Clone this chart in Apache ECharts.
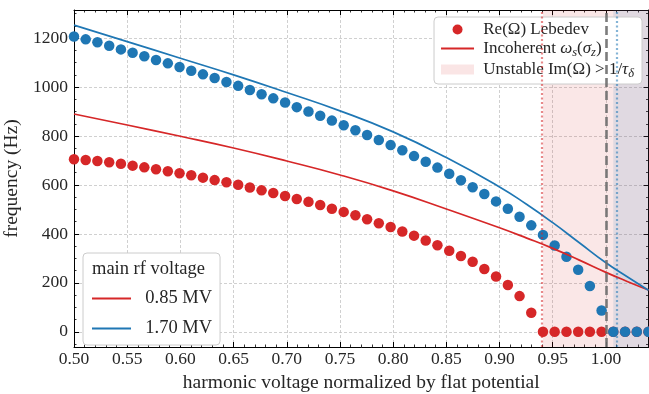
<!DOCTYPE html>
<html>
<head>
<meta charset="utf-8">
<script src="https://cdn.jsdelivr.net/npm/echarts@6/dist/echarts.min.js"></script>
<style>
  html, body { margin: 0; padding: 0; background: #fff; }
  #main { width: 649px; height: 394px; }
</style>
</head>
<body>
<div id="main"></div>
<script>
// harmonic voltage grid of the Lebedev solution
const xValues = [
  0.5000, 0.5110, 0.5220, 0.5331, 0.5441, 0.5551, 0.5661, 0.5771, 0.5882, 0.5992,
  0.6102, 0.6212, 0.6322, 0.6433, 0.6543, 0.6653, 0.6763, 0.6873, 0.6984, 0.7094,
  0.7204, 0.7314, 0.7424, 0.7535, 0.7645, 0.7755, 0.7865, 0.7976, 0.8086, 0.8196,
  0.8306, 0.8416, 0.8527, 0.8637, 0.8747, 0.8857, 0.8967, 0.9078, 0.9188, 0.9298,
  0.9408, 0.9518, 0.9629, 0.9739, 0.9849, 0.9959, 1.0069, 1.0180, 1.0290, 1.0400
];
// Re(Omega) Lebedev, 0.85 MV
const lebedev085 = [
  705, 702, 698, 693, 687, 679, 672, 664, 656, 648,
  640, 630, 620, 611, 601, 590, 578, 567, 555, 543,
  531, 518, 503, 490, 476, 460, 444, 428, 410, 393,
  373, 354, 331, 310, 286, 257, 226, 191, 146, 78,
  0, 0, 0, 0, 0, 0, 0, 0, 0, 0
];
// Re(Omega) Lebedev, 1.70 MV
const lebedev170 = [
  1207, 1195, 1183, 1169, 1154, 1140, 1126, 1111, 1097, 1082,
  1067, 1052, 1037, 1021, 1005, 988, 971, 954, 937, 918,
  900, 883, 863, 844, 824, 804, 784, 763, 742, 718,
  695, 671, 646, 619, 591, 563, 533, 503, 470, 435,
  396, 353, 307, 254, 187, 87, 0, 0, 0, 0
];
// incoherent synchrotron frequency
const lineX = [0.50, 0.55, 0.60, 0.65, 0.70, 0.75, 0.80, 0.85, 0.90, 0.925, 0.95, 0.975, 1.00, 1.02, 1.04];
const incoherent085 = [890, 845, 799, 751, 698, 641, 576, 502, 425, 384, 341, 293, 243, 206, 171];
const incoherent170 = [1253, 1186, 1118, 1050, 978, 903, 817, 712, 592, 522, 446, 364, 282, 225, 170];
// unstable thresholds
const unstable085 = 0.9408;
const unstable170 = 1.0069;
const flatPotential = 1.0;

const RED = '#d62728';
const BLUE = '#1f77b4';
const FONT = 'Liberation Serif';
const TXT = '#262626';

const N_LEB = 'Re(Ω) Lebedev';
const N_INC = 'Incoherent ωs(σz)';
const N_UNS = 'Unstable Im(Ω) > 1/τδ';

const pairs = (xs, ys) => xs.map((x, i) => [x, ys[i]]);

const LFS = 17;
const richText = {
  sp: { fontFamily: FONT, fontSize: LFS, lineHeight: 21 },
  n: { fontFamily: FONT, fontSize: LFS, color: TXT, lineHeight: 21 },
  i: { fontFamily: FONT, fontSize: LFS, color: TXT, lineHeight: 21, fontStyle: 'italic' },
  s: { fontFamily: FONT, fontSize: 12.5, color: TXT, lineHeight: 21, fontStyle: 'italic', verticalAlign: 'bottom' }
};
const richText2 = {
  sp: { fontFamily: FONT, fontSize: 18.5 },
  n: { fontFamily: FONT, fontSize: 18.5, color: TXT }
};

var myChart = echarts.init(document.getElementById('main'));

const axisCommon = {
  axisLine: { onZero: false, lineStyle: { color: '#000', width: 1 } },
  axisTick: { inside: true, length: 5, lineStyle: { color: '#000', width: 1 } }
};
const minorX = { show: true, splitNumber: 5, length: 2.5, lineStyle: { color: '#000', width: 0.8 } };
const minorY = { show: true, splitNumber: 4, length: 2.5, lineStyle: { color: '#000', width: 0.8 } };
const gridLine = { show: true, lineStyle: { color: '#c4c4c4', type: [3, 2], width: 0.8 } };

myChart.setOption({
  animation: false,
  grid: { left: 74, right: 0.5, top: 10, bottom: 47, containLabel: false, outerBoundsMode: 'none' },
  title: {
    text: 'main rf voltage',
    left: 92, top: 260, padding: 0,
    textStyle: { fontFamily: FONT, fontSize: 18.5, fontWeight: 'normal', color: TXT }
  },
  legend: [
    {
      orient: 'vertical',
      right: 7, top: 17,
      padding: [4, 8, 4, 6],
      itemWidth: 33, itemHeight: 10, itemGap: 2,
      backgroundColor: '#fff',
      borderColor: '#cccccc', borderWidth: 1, borderRadius: 4,
      data: [
        N_LEB,
        { name: N_INC, itemStyle: { opacity: 0 } },
        { name: N_UNS, icon: 'rect' }
      ],
      formatter: function (name) {
        if (name === N_INC) return '{sp| }{n|Incoherent }{i|ω}{s|s}{n|(}{i|σ}{s|z}{n|)}';
        if (name === N_UNS) return '{sp| }{n|Unstable Im(Ω) > 1/}{i|τ}{s|δ}';
        return '{sp| }{n|' + name + '}';
      },
      textStyle: { rich: richText }
    },
    {
      orient: 'vertical',
      left: 83, top: 253,
      padding: [36, 8, 7, 8],
      itemWidth: 39, itemHeight: 14, itemGap: 11,
      backgroundColor: '#fff',
      borderColor: '#cccccc', borderWidth: 1, borderRadius: 4,
      data: [
        { name: '0.85 MV', itemStyle: { opacity: 0 } },
        { name: '1.70 MV', itemStyle: { opacity: 0 } }
      ],
      formatter: name => '{sp|  }{n|' + name + '}',
      textStyle: { rich: richText2 }
    }
  ],
  xAxis: [
    Object.assign({
      type: 'value', min: 0.5, max: 1.04, interval: 0.05,
      name: 'harmonic voltage normalized by flat potential',
      nameLocation: 'middle', nameGap: 25,
      nameTextStyle: { fontFamily: FONT, fontSize: 19.5, color: TXT },
      axisLabel: {
        margin: 3, fontFamily: FONT, fontSize: 17.5, color: TXT, showMaxLabel: false,
        formatter: v => v.toFixed(2)
      },
      splitLine: gridLine,
      minorTick: minorX
    }, axisCommon),
    Object.assign({
      type: 'value', min: 0.5, max: 1.04, interval: 0.05, position: 'top',
      axisLabel: { show: false }, splitLine: { show: false },
      minorTick: minorX
    }, axisCommon)
  ],
  yAxis: [
    Object.assign({
      type: 'value', min: -62, max: 1315, splitNumber: 7,
      name: 'frequency (Hz)',
      nameLocation: 'middle', nameGap: 45,
      nameTextStyle: { fontFamily: FONT, fontSize: 19.5, color: TXT },
      axisLabel: {
        margin: 6, fontFamily: FONT, fontSize: 17.5, color: TXT,
        showMinLabel: false, showMaxLabel: false,
        formatter: v => String(v)
      },
      splitLine: gridLine,
      minorTick: minorY
    }, axisCommon),
    Object.assign({
      type: 'value', min: -62, max: 1315, splitNumber: 7, position: 'right',
      axisLabel: { show: false }, splitLine: { show: false },
      minorTick: minorY
    }, axisCommon)
  ],
  series: [
    {
      name: N_UNS,
      type: 'line',
      data: [],
      symbol: 'none',
      itemStyle: { color: 'rgba(214,39,40,0.12)' },
      lineStyle: { width: 0 },
      silent: true,
      markArea: {
        silent: true,
        data: [
          [{ xAxis: unstable085, itemStyle: { color: 'rgba(214,39,40,0.11)' } }, { xAxis: 1.04 }],
          [{ xAxis: unstable170, itemStyle: { color: 'rgba(31,119,180,0.12)' } }, { xAxis: 1.04 }]
        ]
      },
      markLine: {
        silent: true,
        symbol: ['none', 'none'],
        label: { show: false },
        data: [
          { xAxis: unstable085, lineStyle: { color: 'rgba(214,39,40,0.55)', type: [2, 2.5], width: 2.2 } },
          { xAxis: unstable170, lineStyle: { color: 'rgba(31,119,180,0.55)', type: [2, 2.5], width: 2.2 } },
          { xAxis: flatPotential, lineStyle: { color: 'rgba(110,110,110,0.9)', type: [9, 4], width: 2.6 } }
        ]
      }
    },
    {
      name: N_LEB,
      type: 'scatter',
      data: pairs(xValues, lebedev085),
      symbolSize: 10.5,
      itemStyle: { color: RED, opacity: 1 }
    },
    {
      name: 'Lebedev 1.70 MV',
      type: 'scatter',
      data: pairs(xValues, lebedev170),
      symbolSize: 10.5,
      itemStyle: { color: BLUE, opacity: 1 }
    },
    {
      name: N_INC,
      type: 'line',
      data: pairs(lineX, incoherent085),
      smooth: true,
      symbol: 'none',
      itemStyle: { color: RED },
      lineStyle: { color: RED, width: 1.7 }
    },
    {
      name: 'Incoherent 1.70 MV',
      type: 'line',
      data: pairs(lineX, incoherent170),
      smooth: true,
      symbol: 'none',
      itemStyle: { color: BLUE },
      lineStyle: { color: BLUE, width: 1.7 }
    },
    {
      name: '0.85 MV', type: 'line', data: [], symbol: 'none',
      itemStyle: { color: RED }, lineStyle: { color: RED, width: 1.7 }
    },
    {
      name: '1.70 MV', type: 'line', data: [], symbol: 'none',
      itemStyle: { color: BLUE }, lineStyle: { color: BLUE, width: 1.7 }
    }
  ]
});
</script>
</body>
</html>
